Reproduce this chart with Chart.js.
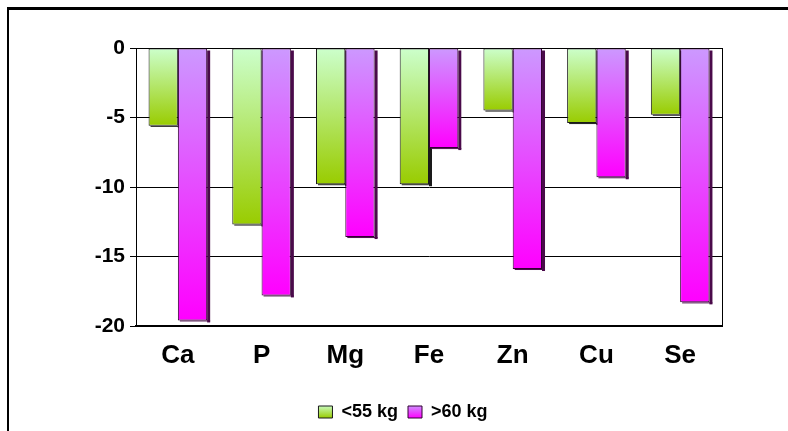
<!DOCTYPE html>
<html>
<head>
<meta charset="utf-8">
<script src="https://cdn.jsdelivr.net/npm/chart.js@4"></script>
<style>
  html, body { margin: 0; padding: 0; background: #fff; }
  #wrap { position: relative; width: 788px; height: 431px; }
  #frame { position: absolute; left: 7px; top: 7px; right: 0; bottom: 0;
           border-left: 2px solid #000; border-top: 3px solid #000; }
  canvas { position: absolute; left: 0; top: 0; }
</style>
</head>
<body>
<div id="wrap">
  <div id="frame"></div>
  <canvas id="chart" width="788" height="431"></canvas>
</div>
<script>
const categories = ["Ca", "P", "Mg", "Fe", "Zn", "Cu", "Se"];
const seriesNames = ["<55 kg", ">60 kg"];
const under55 = [-5.6, -12.7, -9.8, -9.8, -4.5, -5.4, -4.8];
const over60 = [-19.6, -17.8, -13.6, -7.2, -15.9, -9.3, -18.3];
const yTicks = [0, -5, -10, -15, -20];

const FONT = "Arial, 'Liberation Sans', sans-serif";

// gradient for each bar, from the zero line down to the bar end
function barGradient(top, bottom) {
  return (ctx) => {
    const chart = ctx.chart;
    if (!chart.chartArea || ctx.raw === undefined) return bottom;
    const y = chart.scales.y;
    const y0 = y.getPixelForValue(0);
    const y1 = y.getPixelForValue(ctx.raw);
    const g = chart.ctx.createLinearGradient(0, y0, 0, y1);
    g.addColorStop(0, top);
    g.addColorStop(1, bottom);
    return g;
  };
}

const colors = [
  { top: "#ccffcc", bottom: "#99cc00", border: "#1a1a1a", shade: "#1a1a1a" },
  { top: "#cc99ff", bottom: "#ff00ff", border: "#330033", shade: "#4a0a4a" }
];

// dark edge on the right / bottom of each bar (the 3D look), plus plot frame
const extras = {
  id: "extras",
  beforeDatasetsDraw(chart) {
    const c = chart.ctx;
    c.save();
    chart.data.datasets.forEach((ds, i) => {
      const meta = chart.getDatasetMeta(i);
      c.fillStyle = colors[i].shade;
      meta.data.forEach(el => {
        const p = el.getProps(["x", "y", "base", "width"], true);
        const right = p.x + p.width / 2;
        const top = Math.min(p.y, p.base);
        const bottom = Math.max(p.y, p.base);
        c.fillRect(right, top + 2, 3, bottom - top);
        c.fillRect(p.x - p.width / 2 + 2, bottom, p.width + 1, 1);
      });
    });
    c.restore();
  },
  afterDatasetsDraw(chart) {
    const a = chart.chartArea;
    const c = chart.ctx;
    c.save();
    c.strokeStyle = "#000";
    c.lineWidth = 1;
    c.beginPath();
    c.moveTo(Math.round(a.right) + 0.5, a.top);
    c.lineTo(Math.round(a.right) + 0.5, a.bottom);
    c.stroke();
    c.restore();
  }
};

new Chart(document.getElementById("chart").getContext("2d"), {
  type: "bar",
  data: {
    labels: categories,
    datasets: [
      {
        label: seriesNames[0],
        data: under55,
        backgroundColor: barGradient(colors[0].top, colors[0].bottom),
        borderColor: colors[0].border,
        borderWidth: 1,
        borderSkipped: false
      },
      {
        label: seriesNames[1],
        data: over60,
        backgroundColor: barGradient(colors[1].top, colors[1].bottom),
        borderColor: colors[1].border,
        borderWidth: 1,
        borderSkipped: false
      }
    ]
  },
  options: {
    responsive: false,
    animation: false,
    categoryPercentage: 0.7,
    barPercentage: 1.0,
    layout: { padding: { left: 84, right: 66, top: 48, bottom: 0 } },
    plugins: {
      title: { display: false },
      tooltip: { enabled: false },
      legend: {
        position: "bottom",
        labels: {
          color: "#000",
          font: { family: FONT, size: 18, weight: "bold" },
          boxWidth: 14,
          boxHeight: 12,
          padding: 10,
          generateLabels(chart) {
            return chart.data.datasets.map((ds, i) => {
              const g = chart.ctx.createLinearGradient(0, 405, 0, 418);
              g.addColorStop(0, colors[i].top);
              g.addColorStop(1, colors[i].bottom);
              return {
                text: ds.label,
                fillStyle: g,
                strokeStyle: colors[i].border,
                lineWidth: 1,
                fontColor: "#000",
                hidden: false,
                datasetIndex: i
              };
            });
          }
        }
      }
    },
    scales: {
      x: {
        grid: { display: false, drawTicks: false },
        border: { display: true, color: "#000", width: 2 },
        ticks: {
          color: "#000",
          padding: 14,
          font: { family: FONT, size: 26, weight: "bold" }
        },
        afterFit(scale) { scale.height = 67; }
      },
      y: {
        min: -20,
        max: 0,
        afterBuildTicks(scale) { scale.ticks = yTicks.map(v => ({ value: v })); },
        grid: { color: "#000", lineWidth: 1, tickLength: 6 },
        border: { display: true, color: "#000", width: 1 },
        ticks: {
          color: "#000",
          padding: 5,
          font: { family: FONT, size: 21, weight: "bold" }
        },
        afterFit(scale) { scale.width = 52; }
      }
    }
  },
  plugins: [extras]
});
</script>
</body>
</html>
